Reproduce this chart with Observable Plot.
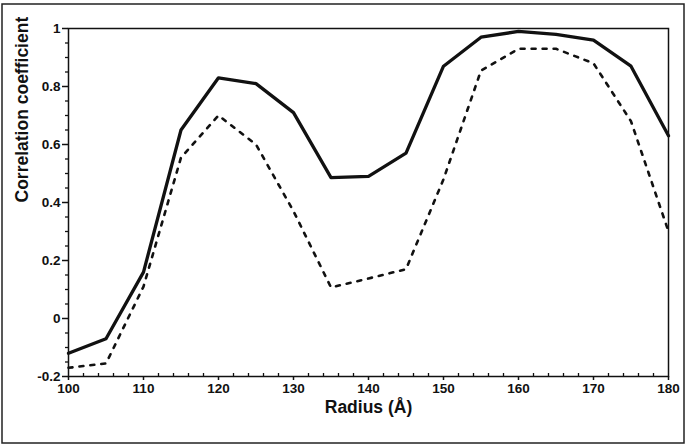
<!DOCTYPE html>
<html>
<head>
<meta charset="utf-8">
<script src="https://cdn.jsdelivr.net/npm/d3@7"></script>
<script src="https://cdn.jsdelivr.net/npm/@observablehq/plot@0.6"></script>
<style>
  html, body { margin: 0; padding: 0; background: #fff; }
  #chart { position: relative; width: 687px; height: 447px; }
</style>
</head>
<body>
<div id="chart"></div>
<script>
const radius = [100, 105, 110, 115, 120, 125, 130, 135, 140, 145, 150, 155, 160, 165, 170, 175, 180];
const solidSeries = [-0.12, -0.07, 0.16, 0.65, 0.83, 0.81, 0.71, 0.486, 0.49, 0.57, 0.87, 0.97, 0.99, 0.98, 0.96, 0.87, 0.63];
const dashedSeries = [-0.17, -0.155, 0.11, 0.555, 0.70, 0.60, 0.37, 0.107, 0.138, 0.17, 0.48, 0.855, 0.93, 0.93, 0.88, 0.68, 0.30];
const xTicks = [100, 110, 120, 130, 140, 150, 160, 170, 180];
const yTicks = [-0.2, 0, 0.2, 0.4, 0.6, 0.8, 1];
const yTickLabels = ["-0.2", "0", "0.2", "0.4", "0.6", "0.8", "1"];
const xMinor = d3.range(100, 181, 2).filter(v => v % 10 !== 0);
const yMinor = d3.range(-4, 21, 1).map(v => v * 0.05).filter(v => Math.abs(Math.round(v * 100)) % 20 !== 0);
const xLabel = "Radius (Å)";
const yLabel = "Correlation coefficient";

const solid = radius.map((r, i) => ({r, v: solidSeries[i]}));
const dashed = radius.map((r, i) => ({r, v: dashedSeries[i]}));

const W = 687, H = 447;
const plot = Plot.plot({
  width: W,
  height: H,
  marginLeft: 68,
  marginRight: 19,
  marginTop: 28,
  marginBottom: 71,
  style: {fontFamily: "'Liberation Sans', Arial, sans-serif", fontSize: "13.5px", fontWeight: "bold", color: "#111", background: "#fff"},
  x: {domain: [100, 180]},
  y: {domain: [-0.2, 1]},
  marks: [
    Plot.frame({stroke: "#111", strokeWidth: 1.5}),
    Plot.axisX(xMinor, {anchor: "bottom", tickSize: -3, text: null, label: null, strokeWidth: 1.3}),
    Plot.axisY(yMinor, {anchor: "left", tickSize: 3, text: null, label: null, strokeWidth: 1.3}),
    Plot.axisX(xTicks, {anchor: "bottom", tickSize: 4, tickPadding: 3, label: null, strokeWidth: 1.5}),
    Plot.axisY(yTicks, {anchor: "left", tickSize: 6, tickPadding: 2, label: null, strokeWidth: 1.5,
      tickFormat: d => yTickLabels[yTicks.indexOf(d)]}),
    Plot.line(dashed, {x: "r", y: "v", stroke: "#111", strokeWidth: 2.6, strokeDasharray: "4,7"}),
    Plot.line(solid, {x: "r", y: "v", stroke: "#111", strokeWidth: 3.3}),
    Plot.text([xLabel], {frameAnchor: "bottom", dy: 36, fontSize: 17.5, fontWeight: "bold", fill: "#111"}),
    Plot.text([yLabel], {frameAnchor: "left", dx: -46, rotate: -90, fontSize: 17.5, fontWeight: "bold", fill: "#111"})
  ]
});
d3.select(plot).append("rect")
  .attr("x", 2).attr("y", 4).attr("width", 682).attr("height", 439)
  .attr("fill", "none").attr("stroke", "#222").attr("stroke-width", 1.5);
document.getElementById("chart").appendChild(plot);
</script>
</body>
</html>
